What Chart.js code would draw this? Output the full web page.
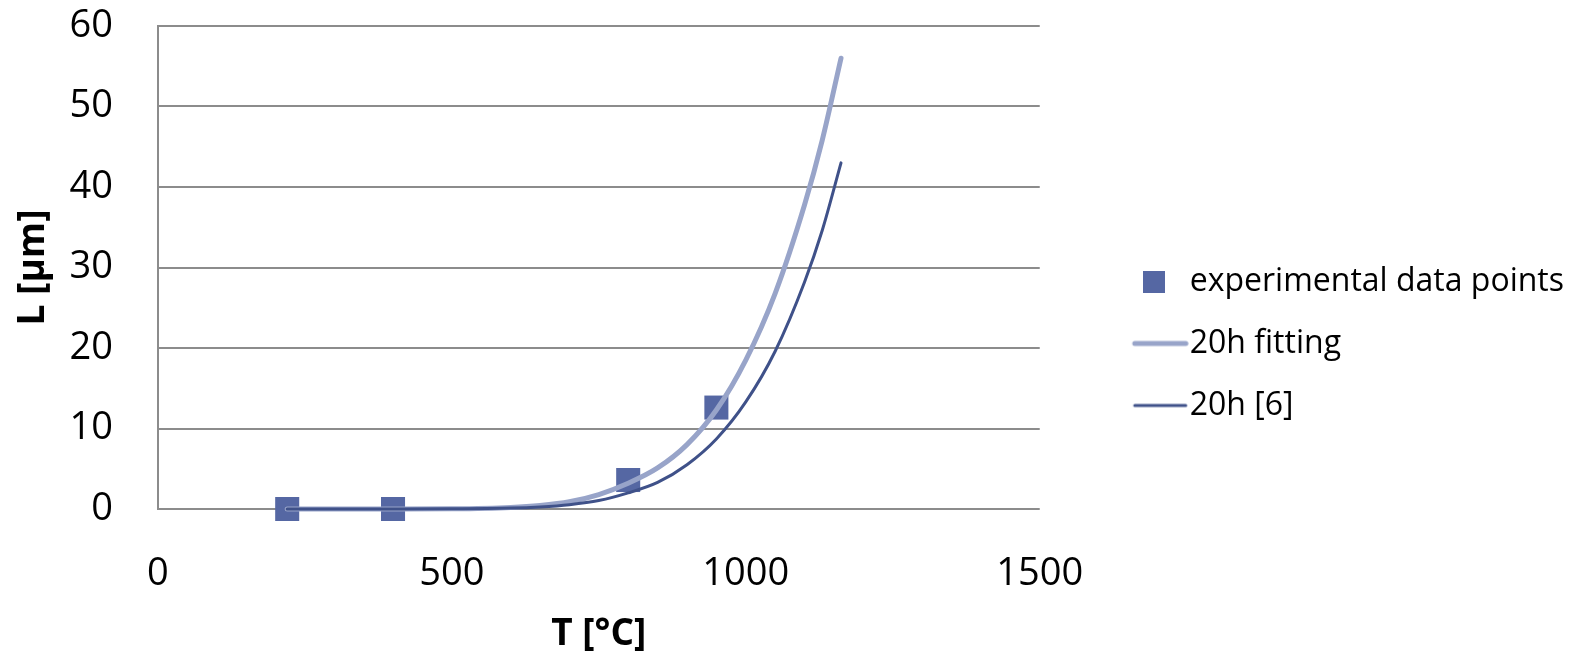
<!DOCTYPE html>
<html>
<head>
<meta charset="utf-8">
<script src="https://cdn.jsdelivr.net/npm/chart.js@4/dist/chart.umd.min.js"></script>
<style>
  html, body { margin: 0; padding: 0; background: #ffffff; }
  #wrap { width: 1575px; height: 661px; }
</style>
</head>
<body>
<div id="wrap"><canvas id="c" width="1575" height="661"></canvas></div>
<script>
// ---- data ----
const X_TICKS = [0, 500, 1000, 1500];
const Y_TICKS = [0, 10, 20, 30, 40, 50, 60];

const T_EXP = [220, 400, 800, 950];
const L_EXP = [0, 0, 3.6, 12.6];

const T_CURVE = [220, 300, 400, 500, 600, 650, 700, 750, 800, 850, 900, 950, 1000, 1050, 1100, 1130, 1162];
const L_FIT   = [0, 0, 0.003, 0.03, 0.2, 0.44, 0.9, 1.8, 3.2, 5.1, 8.0, 12.3, 18.5, 26.8, 37.8, 45.8, 56.0];
const L_REF6  = [0, 0, 0.001, 0.016, 0.11, 0.26, 0.54, 1.05, 2.0, 3.3, 5.5, 8.7, 13.3, 19.6, 28.2, 34.6, 43.0];

const LABELS = ['experimental data points', '20h fitting', '20h [6]'];

const C_EXP = '#5567a3';
const C_FIT = '#98a4c9';
const C_REF = '#3f5189';

function pairs(xs, ys) { return xs.map((x, i) => ({ x: x, y: ys[i] })); }

// legend glyph images
function squareGlyph() {
  const c = document.createElement('canvas');
  c.width = 22; c.height = 22;
  const g = c.getContext('2d');
  g.fillStyle = C_EXP; g.fillRect(0, 0, 22, 22);
  return c;
}
function lineGlyph(color, w) {
  const c = document.createElement('canvas');
  c.width = 70; c.height = 10;
  const g = c.getContext('2d');
  g.strokeStyle = color; g.lineWidth = w; g.lineCap = 'round';
  g.beginPath(); g.moveTo(16, 5); g.lineTo(67, 5); g.stroke();
  return c;
}
const GLYPHS = [squareGlyph(), lineGlyph(C_FIT, 5), lineGlyph(C_REF, 3)];

const FAMILY = "'Open Sans', 'Liberation Sans', sans-serif";
const TICK_FONT = { family: FAMILY, size: 38 };
const TITLE_FONT = { family: FAMILY, size: 37, weight: 'bold' };
const GRID = '#8c8c8c';

new Chart(document.getElementById('c'), {
  type: 'scatter',
  data: {
    datasets: [
      {
        label: LABELS[0],
        data: pairs(T_EXP, L_EXP),
        pointStyle: 'rect',
        radius: 17,
        backgroundColor: C_EXP,
        borderColor: C_EXP,
        borderWidth: 0,
        showLine: false,
        clip: false,
        order: 2
      },
      {
        label: LABELS[1],
        data: pairs(T_CURVE, L_FIT),
        showLine: true,
        borderColor: C_FIT,
        backgroundColor: C_FIT,
        borderWidth: 5,
        borderCapStyle: 'round',
        pointRadius: 0,
        cubicInterpolationMode: 'monotone',
        clip: false,
        order: 1
      },
      {
        label: LABELS[2],
        data: pairs(T_CURVE, L_REF6),
        showLine: true,
        borderColor: C_REF,
        backgroundColor: C_REF,
        borderWidth: 3,
        borderCapStyle: 'round',
        pointRadius: 0,
        cubicInterpolationMode: 'monotone',
        clip: false,
        order: 0
      }
    ]
  },
  options: {
    responsive: false,
    animation: false,
    devicePixelRatio: 1,
    layout: { padding: { left: 0, right: 1, top: 26, bottom: 0 } },
    plugins: {
      tooltip: { enabled: false },
      legend: {
        display: true,
        position: 'right',
        maxWidth: 700,
        labels: {
          usePointStyle: true,
          pointStyleWidth: 40,
          padding: 30,
          color: '#000000',
          font: { family: FAMILY, size: 32 },
          generateLabels: (chart) => chart.data.datasets.map((ds, i) => ({
            text: ds.label,
            datasetIndex: i,
            pointStyle: GLYPHS[i],
            fillStyle: ds.backgroundColor,
            strokeStyle: ds.borderColor,
            lineWidth: 0,
            hidden: false,
            fontColor: '#000000'
          }))
        }
      }
    },
    scales: {
      x: {
        type: 'linear',
        position: 'bottom',
        min: 0,
        max: 1500,
        afterBuildTicks: (s) => { s.ticks = X_TICKS.map(v => ({ value: v })); },
        grid: { display: true, drawOnChartArea: false, drawTicks: true, tickLength: 40, color: 'rgba(0,0,0,0)', tickColor: 'rgba(0,0,0,0)' },
        border: { display: false },
        ticks: { color: '#000000', font: TICK_FONT, padding: 2, maxRotation: 0, callback: (v) => String(v) },
        title: { display: true, text: 'T [°C]', color: '#000000', font: TITLE_FONT, padding: { top: 14, bottom: 4 } }
      },
      y: {
        type: 'linear',
        position: 'left',
        min: 0,
        max: 60,
        afterBuildTicks: (s) => { s.ticks = Y_TICKS.map(v => ({ value: v })); },
        grid: { color: GRID, lineWidth: 2, drawTicks: true, tickLength: 42, tickColor: 'rgba(0,0,0,0)' },
        border: { display: true, color: GRID, width: 2 },
        ticks: { color: '#000000', font: TICK_FONT, padding: 3, callback: (v) => String(v) },
        title: { display: true, text: 'L [µm]', color: '#000000', font: TITLE_FONT, padding: 11 }
      },
      gap: {
        type: 'linear',
        position: 'right',
        display: true,
        grid: { display: false, drawTicks: false },
        border: { display: false },
        ticks: { display: false },
        afterFit: (s) => { s.width = 64; }
      }
    }
  }
});
</script>
</body>
</html>
